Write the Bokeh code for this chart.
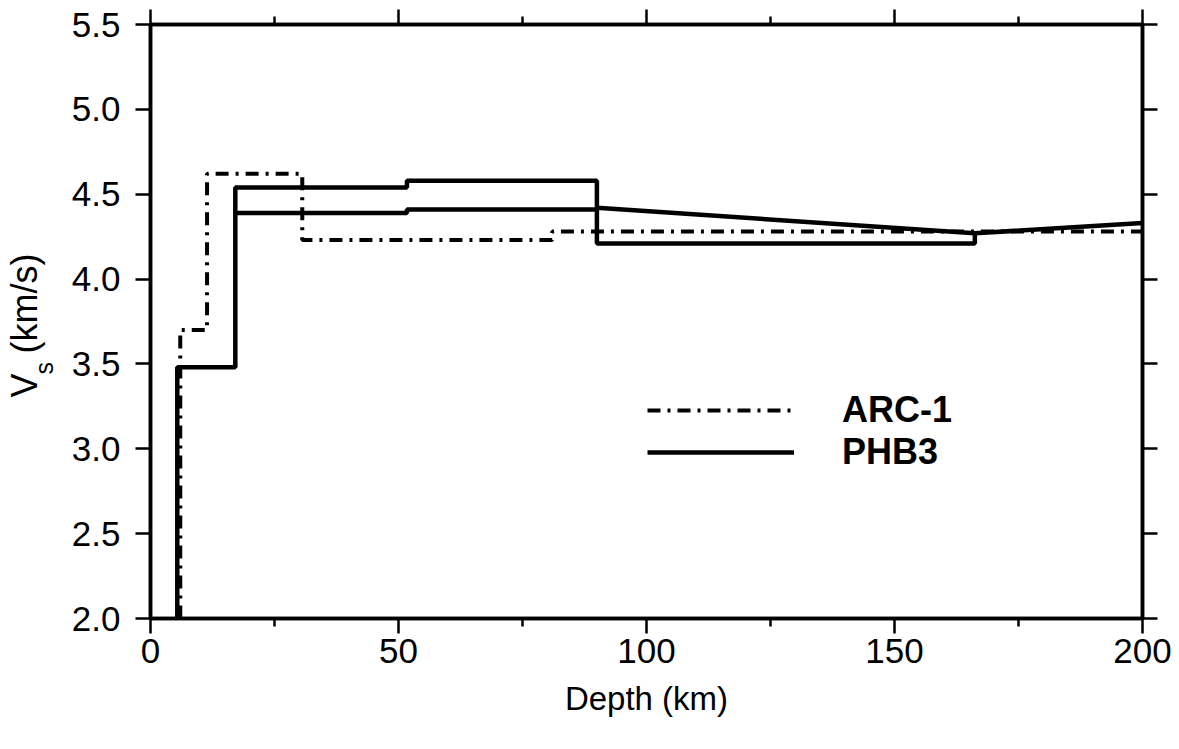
from bokeh.plotting import figure
from bokeh.models import (Range1d, FixedTicker, LinearAxis, PrintfTickFormatter,
                          Legend, LegendItem, Title)
from bokeh.embed import file_html
from bokeh.resources import INLINE

# ---------------- data ----------------
x_ticks = [0, 50, 100, 150, 200]
x_minor = [25, 75, 125, 175]
y_ticks = [2.0, 2.5, 3.0, 3.5, 4.0, 4.5, 5.0, 5.5]

# ARC-1 model (step profile vertices): depth (km), Vs (km/s)
arc1_depth = [6.0, 6.0, 11.4, 11.4, 30.6, 30.6, 81.0, 81.0, 200.0]
arc1_vs = [2.0, 3.70, 3.70, 4.62, 4.62, 4.23, 4.23, 4.28, 4.28]

# PHB3 model, upper branch
phb3_depth = [5.4, 5.4, 17.1, 17.1, 51.7, 51.7, 90.0, 90.0, 166.2, 166.2, 200.0]
phb3_vs = [2.0, 3.48, 3.48, 4.54, 4.54, 4.58, 4.58, 4.21, 4.21, 4.27, 4.33]

# PHB3 model, lower branch
phb3b_depth = [17.1, 51.7, 51.7, 90.0, 90.0, 166.2]
phb3b_vs = [4.39, 4.39, 4.41, 4.41, 4.42, 4.27]

FONT = "Liberation Sans"

p = figure(width=1179, height=749, output_backend="svg", toolbar_location=None,
           x_range=Range1d(0, 200), y_range=Range1d(2.0, 5.5),
           min_border_left=150, min_border_right=37, min_border_top=24,
           min_border_bottom=131, x_axis_type=None, y_axis_type=None)
p.grid.visible = False
p.outline_line_color = "black"
p.outline_line_width = 3.5
p.background_fill_color = "white"
p.border_fill_color = "white"

xt = FixedTicker(ticks=x_ticks, minor_ticks=x_minor)
yt = FixedTicker(ticks=y_ticks, minor_ticks=[])


def style(ax, labels):
    ax.axis_line_width = 3.5
    ax.axis_line_color = "black"
    ax.major_tick_line_width = 2.5
    ax.minor_tick_line_width = 2.5
    ax.major_tick_in = 0
    ax.minor_tick_in = 0
    ax.major_tick_out = 15
    ax.minor_tick_out = 8
    if labels:
        ax.major_label_text_font = FONT
        ax.major_label_text_font_size = "35px"
        ax.major_label_text_color = "black"
    else:
        ax.major_label_text_color = None
        ax.major_label_text_font_size = "1px"
        ax.major_label_standoff = 0
        ax.axis_label_standoff = 0


xb = LinearAxis(ticker=xt)
style(xb, True)
xb.major_label_standoff = 5
xb.axis_label = "Depth (km)"
xb.axis_label_text_font = FONT
xb.axis_label_text_font_size = "33px"
xb.axis_label_text_font_style = "normal"
xb.axis_label_text_color = "black"
xb.axis_label_standoff = 14
p.add_layout(xb, "below")

xa = LinearAxis(ticker=xt)
style(xa, False)
p.add_layout(xa, "above")

yl = LinearAxis(ticker=yt, formatter=PrintfTickFormatter(format="%.1f"))
style(yl, True)
yl.major_label_standoff = 15
yl.axis_label = "\u00a0"
yl.axis_label_text_font_size = "1px"
yl.axis_label_standoff = 22
p.add_layout(yl, "left")

yr = LinearAxis(ticker=yt)
style(yr, False)
p.add_layout(yr, "right")

# y axis label V_s (km/s): subscript "s" (inner column) and main text (outer)
p.add_layout(Title(text="s", align="left", offset=244, standoff=-31,
                   text_font=FONT, text_font_size="25px",
                   text_font_style="normal", text_color="black"), "left")
p.add_layout(Title(text="V\u00a0\u00a0(km/s)", align="left", offset=221, standoff=-4,
                   text_font=FONT, text_font_size="36px",
                   text_font_style="normal", text_color="black"), "left")

r_arc = p.line(arc1_depth, arc1_vs, line_color="black", line_width=4,
               line_dash="13 7 3 7")
r_phb = p.line(phb3_depth, phb3_vs, line_color="black", line_width=4.5)
p.line(phb3b_depth, phb3b_vs, line_color="black", line_width=4.5)

legend = Legend(items=[LegendItem(label="ARC-1", renderers=[r_arc]),
                       LegendItem(label="PHB3", renderers=[r_phb])],
                location=(497, 145), orientation="vertical",
                glyph_width=147, glyph_height=40, label_height=40,
                label_standoff=48, spacing=-3, padding=0, margin=0,
                label_text_font=FONT, label_text_font_size="36px",
                label_text_font_style="bold", label_text_color="black",
                border_line_alpha=0, background_fill_alpha=0)
p.add_layout(legend, "center")

open("out.html", "w").write(file_html(p, INLINE))
